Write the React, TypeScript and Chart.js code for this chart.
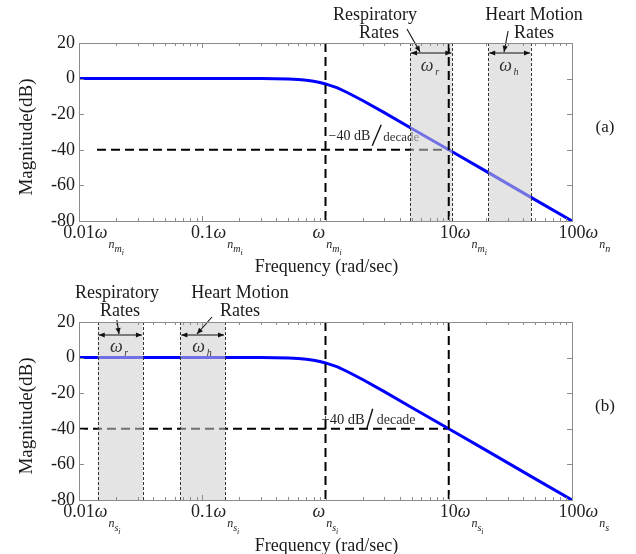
import React, { useEffect, useRef } from 'react';
import { Chart, registerables } from 'chart.js';

Chart.register(...registerables);

// ---------- data ----------
const frequency = [0.01, 0.1, 0.3, 0.5, 0.6, 0.7, 0.8, 0.9, 1, 1.25, 1.5, 2, 3, 5, 10, 20, 50, 100];
const magnitudeA = [0, 0, 0, -0.2, -0.5, -0.9, -1.5, -2.2, -3, -5.2, -7.8, -12.3, -19.1, -28, -40, -52, -68, -80];
const magnitudeB = [0, 0, 0, -0.2, -0.5, -0.9, -1.5, -2.2, -3, -5.2, -7.8, -12.3, -19.1, -28, -40, -52, -68, -80];

const yTickValues = [20, 0, -20, -40, -60, -80];
const xTickValues = [0.01, 0.1, 1, 10, 100];
const xTickPrefixes = ['0.01', '0.1', '', '10', '100'];
const xTickSubsA = [['n', 'm', 'i'], ['n', 'm', 'i'], ['n', 'm', 'i'], ['n', 'm', 'i'], ['n', 'n', '']];
const xTickSubsB = [['n', 's', 'i'], ['n', 's', 'i'], ['n', 's', 'i'], ['n', 's', 'i'], ['n', 's', '']];

const respiratoryA = [4.85, 10.7];
const heartA = [20.9, 46.5];
const respiratoryB = [0.0142, 0.033];
const heartB = [0.0664, 0.153];

const cornerLines = [1, 10];
const asymptoteDb = -40;
const asymptoteSpanA = [0.014, 10];
const asymptoteSpanB = [0.01, 10];

const SERIF = '"Liberation Serif", "Times New Roman", serif';
const font = (size: number, italic = false) => `${italic ? 'italic ' : ''}${size}px ${SERIF}`;

type Region = {
  range: number[];
  sub: string;
  line1: string;
  line2: string;
  text1X: number;
  text2X: number;
  arrowFrom: number[]; // [xValue, dy from plot top]
  arrowTo: number[];
};

type PanelCfg = {
  tag: string;
  magnitude: number[];
  asymSpan: number[];
  subs: string[][];
  regions: Region[];
  textDy1: number;
  textDy2: number;
  dblArrowDy: number;
  omegaDy: number;
  slope: { text: string; size: number; dx: number; dy: number; slashY0: number; slashY1: number; slashW: number; decadeSize: number; decadeGap: number };
  padTop: number;
  padBottom: number;
};

const panelA: PanelCfg = {
  tag: '(a)',
  magnitude: magnitudeA,
  asymSpan: asymptoteSpanA,
  subs: xTickSubsA,
  regions: [
    { range: respiratoryA, sub: 'r', line1: 'Respiratory', line2: 'Rates', text1X: 2.52, text2X: 2.72, arrowFrom: [4.58, -14], arrowTo: [5.85, 9] },
    { range: heartA, sub: 'h', line1: 'Heart Motion', line2: 'Rates', text1X: 49.2, text2X: 49.2, arrowFrom: [30.3, -12], arrowTo: [28.1, 9] },
  ],
  textDy1: -28,
  textDy2: -10,
  dblArrowDy: 10,
  omegaDy: 23,
  slope: { text: '\u221240 dB', size: 14, dx: 3, dy: 13, slashY0: -4, slashY1: -25, slashW: 9, decadeSize: 13, decadeGap: 2 },
  padTop: 43,
  padBottom: 56,
};

const panelB: PanelCfg = {
  tag: '(b)',
  magnitude: magnitudeB,
  asymSpan: asymptoteSpanB,
  subs: xTickSubsB,
  regions: [
    { range: respiratoryB, sub: 'r', line1: 'Respiratory', line2: 'Rates', text1X: 0.0203, text2X: 0.0215, arrowFrom: [0.0203, -2], arrowTo: [0.0211, 12] },
    { range: heartB, sub: 'h', line1: 'Heart Motion', line2: 'Rates', text1X: 0.2024, text2X: 0.2024, arrowFrom: [0.12, -5], arrowTo: [0.0906, 12] },
  ],
  textDy1: -29,
  textDy2: -11,
  dblArrowDy: 13,
  omegaDy: 25,
  slope: { text: '+40 dB', size: 14.5, dx: -4, dy: 9, slashY0: 0, slashY1: -20, slashW: 6, decadeSize: 14, decadeGap: 4 },
  padTop: 45,
  padBottom: 54,
};

function arrowHead(ctx: CanvasRenderingContext2D, x: number, y: number, angle: number, len = 6, half = 2.6) {
  const c = Math.cos(angle), s = Math.sin(angle);
  ctx.beginPath();
  ctx.moveTo(x, y);
  ctx.lineTo(x - len * c + half * s, y - len * s - half * c);
  ctx.lineTo(x - len * c - half * s, y - len * s + half * c);
  ctx.closePath();
  ctx.fill();
}

function makePlugin(p: PanelCfg) {
  return {
    id: 'bode' + p.tag.replace(/\W/g, ''),
    beforeDatasetsDraw(chart: any) {
      const ctx: CanvasRenderingContext2D = chart.ctx;
      const xs = chart.scales.x, ys = chart.scales.y;
      const x0 = xs.getPixelForValue(1);
      const y40 = ys.getPixelForValue(asymptoteDb);
      const s = p.slope;
      ctx.save();
      ctx.fillStyle = '#222';
      ctx.textAlign = 'left';
      ctx.textBaseline = 'middle';
      ctx.font = font(s.size);
      const tx = x0 + s.dx, ty = y40 - s.dy;
      ctx.fillText(s.text, tx, ty);
      const w = ctx.measureText(s.text).width;
      ctx.strokeStyle = '#111';
      ctx.lineWidth = 1.4;
      ctx.beginPath();
      ctx.moveTo(tx + w + 2, y40 + s.slashY0);
      ctx.lineTo(tx + w + 2 + s.slashW, y40 + s.slashY1);
      ctx.stroke();
      ctx.font = font(s.decadeSize);
      ctx.fillStyle = '#333';
      ctx.fillText('decade', tx + w + 2 + s.slashW + s.decadeGap, ty + 1);
      ctx.restore();
    },
    afterDatasetDraw(chart: any, args: any) {
      if (args.index !== 1) return;
      const ctx: CanvasRenderingContext2D = chart.ctx;
      const xs = chart.scales.x;
      const { top, bottom } = chart.chartArea;
      ctx.save();
      ctx.fillStyle = 'rgba(205,205,205,0.55)';
      p.regions.forEach((r) => {
        const a = xs.getPixelForValue(r.range[0]);
        const b = xs.getPixelForValue(r.range[1]);
        ctx.fillRect(a, top, b - a, bottom - top);
      });
      ctx.restore();
    },
    afterDraw(chart: any) {
      const ctx: CanvasRenderingContext2D = chart.ctx;
      const xs = chart.scales.x, ys = chart.scales.y;
      const { left, right, top, bottom } = chart.chartArea;
      ctx.save();

      // regions: dotted boundaries, double arrows, omega labels, annotations
      p.regions.forEach((r) => {
        const a = xs.getPixelForValue(r.range[0]);
        const b = xs.getPixelForValue(r.range[1]);
        ctx.strokeStyle = '#333';
        ctx.lineWidth = 1;
        ctx.setLineDash([3, 2]);
        [a, b].forEach((xx) => {
          ctx.beginPath();
          ctx.moveTo(Math.round(xx) + 0.5, top);
          ctx.lineTo(Math.round(xx) + 0.5, bottom);
          ctx.stroke();
        });
        ctx.setLineDash([]);
        // double arrow
        const ya = top + p.dblArrowDy;
        ctx.strokeStyle = '#111';
        ctx.fillStyle = '#111';
        ctx.lineWidth = 1.2;
        ctx.beginPath();
        ctx.moveTo(a + 1, ya);
        ctx.lineTo(b - 1, ya);
        ctx.stroke();
        arrowHead(ctx, a + 1, ya, Math.PI);
        arrowHead(ctx, b - 1, ya, 0);
        // omega label
        const cx = (a + b) / 2;
        ctx.fillStyle = '#333';
        ctx.font = font(18, true);
        ctx.textAlign = 'center';
        ctx.textBaseline = 'middle';
        ctx.fillText('\u03c9', cx - 4, top + p.omegaDy);
        ctx.font = font(10, true);
        ctx.textAlign = 'left';
        ctx.fillText(r.sub, cx + 4, top + p.omegaDy + 6);
        // annotation text
        ctx.fillStyle = '#1a1a1a';
        ctx.font = font(18);
        ctx.textAlign = 'center';
        ctx.fillText(r.line1, xs.getPixelForValue(r.text1X), top + p.textDy1);
        ctx.fillText(r.line2, xs.getPixelForValue(r.text2X), top + p.textDy2);
        // pointer arrow
        const x1 = xs.getPixelForValue(r.arrowFrom[0]), y1 = top + r.arrowFrom[1];
        const x2 = xs.getPixelForValue(r.arrowTo[0]), y2 = top + r.arrowTo[1];
        ctx.strokeStyle = '#111';
        ctx.fillStyle = '#111';
        ctx.lineWidth = 1.1;
        ctx.beginPath();
        ctx.moveTo(x1, y1);
        ctx.lineTo(x2, y2);
        ctx.stroke();
        arrowHead(ctx, x2, y2, Math.atan2(y2 - y1, x2 - x1), 6, 2.6);
      });

      // frame
      ctx.strokeStyle = '#8c8c8c';
      ctx.lineWidth = 1;
      ctx.strokeRect(Math.round(left) + 0.5, Math.round(top) + 0.5, Math.round(right - left), Math.round(bottom - top));
      // x ticks
      ctx.beginPath();
      for (let d = 0; d < 4; d++) {
        const base = xTickValues[d];
        for (let k = 1; k <= 9; k++) {
          const v = base * k;
          const px = Math.round(xs.getPixelForValue(v)) + 0.5;
          const len = k === 1 ? 5 : 3;
          ctx.moveTo(px, bottom);
          ctx.lineTo(px, bottom - len);
          ctx.moveTo(px, top);
          ctx.lineTo(px, top + len);
        }
      }
      yTickValues.forEach((v) => {
        const py = Math.round(ys.getPixelForValue(v)) + 0.5;
        ctx.moveTo(left, py);
        ctx.lineTo(left + 5, py);
        ctx.moveTo(right, py);
        ctx.lineTo(right - 5, py);
      });
      ctx.stroke();

      // x tick labels with nested subscripts
      ctx.fillStyle = '#222';
      ctx.textAlign = 'left';
      ctx.textBaseline = 'alphabetic';
      const baseY = bottom + 17;
      const sizes = [12, 10, 8];
      const offs = [10, 14, 17];
      xTickValues.forEach((v, i) => {
        const px = xs.getPixelForValue(v);
        const prefix = xTickPrefixes[i];
        ctx.font = font(18);
        const pw = ctx.measureText(prefix).width;
        let cx = prefix ? px - pw / 2 : px - 13;
        if (prefix) ctx.fillText(prefix, cx, baseY);
        cx += pw;
        ctx.font = font(18, true);
        ctx.fillText('\u03c9', cx, baseY);
        cx += ctx.measureText('\u03c9').width + 1;
        p.subs[i].forEach((s, j) => {
          if (!s) return;
          ctx.font = font(sizes[j], true);
          ctx.fillText(s, cx, baseY + offs[j]);
          cx += ctx.measureText(s).width;
        });
      });

      // axis titles
      ctx.fillStyle = '#1a1a1a';
      ctx.font = font(18);
      ctx.textAlign = 'center';
      ctx.textBaseline = 'middle';
      ctx.fillText('Frequency (rad/sec)', (left + right) / 2 + 1, bottom + 46);
      ctx.save();
      ctx.translate(27, (top + bottom) / 2 + 5);
      ctx.rotate(-Math.PI / 2);
      ctx.font = font(19);
      ctx.fillText('Magnitude(dB)', 0, 0);
      ctx.restore();

      // panel tag
      ctx.font = font(17);
      ctx.fillText(p.tag, right + 33, (top + bottom) / 2 - 4);
      ctx.restore();
    },
  };
}

const W = 636;
const H = 277;

function Panel({ cfg }: { cfg: PanelCfg }) {
  const ref = useRef<HTMLCanvasElement>(null);
  useEffect(() => {
    const canvas = ref.current;
    if (!canvas) return;
    const dashed = { borderColor: '#000', borderWidth: 2, borderDash: [9, 5], pointRadius: 0, fill: false };
    const chart = new Chart(canvas, {
      type: 'line',
      data: {
        datasets: [
          {
            label: 'asymptote',
            data: cfg.asymSpan.map((x) => ({ x, y: asymptoteDb })),
            ...dashed,
            order: 3,
          },
          {
            label: 'magnitude',
            data: frequency.map((x, i) => ({ x, y: cfg.magnitude[i] })),
            borderColor: '#0000ff',
            borderWidth: 3,
            pointRadius: 0,
            fill: false,
            tension: 0,
            order: 2,
          },
          {
            label: 'corner1',
            data: [{ x: cornerLines[0], y: 20 }, { x: cornerLines[0], y: -80 }],
            ...dashed,
            order: 1,
          },
          {
            label: 'corner10',
            data: [{ x: cornerLines[1], y: 20 }, { x: cornerLines[1], y: -80 }],
            ...dashed,
            order: 1,
          },
        ] as any,
      },
      options: {
        animation: false,
        responsive: false,
        maintainAspectRatio: false,
        devicePixelRatio: 1,
        layout: { padding: { left: 0, right: 64, top: cfg.padTop, bottom: cfg.padBottom } },
        plugins: { legend: { display: false }, tooltip: { enabled: false } },
        scales: {
          x: { type: 'logarithmic', min: 0.01, max: 100, display: false },
          y: {
            type: 'linear',
            min: -80,
            max: 20,
            afterBuildTicks: (s: any) => {
              s.ticks = yTickValues.map((v) => ({ value: v }));
            },
            afterFit: (s: any) => {
              s.width = 79;
            },
            ticks: {
              color: '#1a1a1a',
              font: { family: SERIF, size: 18 },
              padding: 4,
              callback: (v: any) => String(v),
            },
            grid: { display: false, drawTicks: false, tickLength: 0 },
            border: { display: false },
          },
        },
      } as any,
      plugins: [makePlugin(cfg)],
    });
    return () => chart.destroy();
  }, [cfg]);
  return <canvas ref={ref} width={W} height={H} style={{ display: 'block', width: W, height: H }} />;
}

export default function App() {
  return (
    <div style={{ position: 'absolute', left: 0, top: 0, width: W, height: 554, background: '#fff' }}>
      <Panel cfg={panelA} />
      <Panel cfg={panelB} />
    </div>
  );
}
